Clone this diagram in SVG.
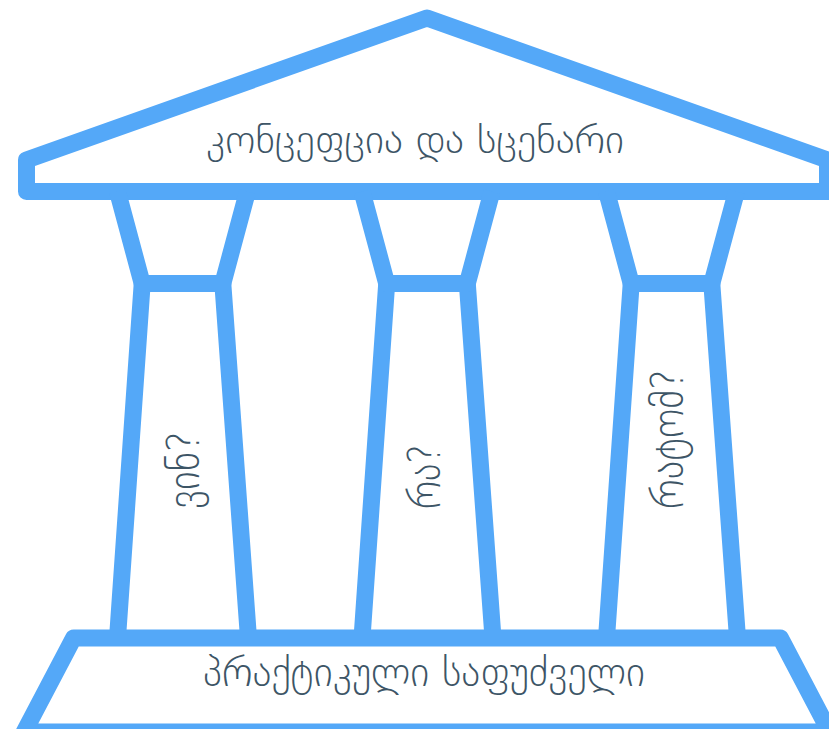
<svg xmlns="http://www.w3.org/2000/svg" width="829" height="729" viewBox="0 0 829 729">
<style>
.s{fill:none;stroke:#54a8f8;stroke-width:17;stroke-linejoin:round}
.f{fill:#ffffff;stroke:#54a8f8;stroke-width:17;stroke-linejoin:round}
.t{font-family:"DejaVu Sans",sans-serif;font-weight:200;fill:#3d5566}
</style>
<rect width="829" height="729" fill="#ffffff"/>
<g id="connectors">
<g id="col1-shaft"><path class="s" d="M142.2,283.5 L117.5,638 M222.8,283.5 L248.5,638"/></g>
<g id="col2-shaft"><path class="s" d="M386.7,283.5 L362,638 M467.3,283.5 L493,638"/></g>
<g id="col3-shaft"><path class="s" d="M631.2,283.5 L606.5,638 M711.8,283.5 L737.5,638"/></g>
</g>
<g id="roof">
<path class="f" d="M26.5,191.5 L26.5,160 L427,18 L827.5,160 L827.5,191.5 Z"/>
<text class="t" transform="translate(206,153) scale(1,1.15)" font-size="34" textLength="418" lengthAdjust="spacingAndGlyphs">კონცეფცია და სცენარი</text>
</g>
<g id="col1">
<path class="s" d="M117.5,191.5 L142.2,283.5 L222.8,283.5 L247.5,191.5"/>
<text class="t" transform="translate(199,509) rotate(-90) scale(1,1.1)" font-size="40" textLength="78" lengthAdjust="spacingAndGlyphs">ვინ?</text>
</g>
<g id="col2">
<path class="s" d="M362,191.5 L386.7,283.5 L467.3,283.5 L492,191.5"/>
<text class="t" transform="translate(440,509) rotate(-90) scale(1,1.1)" font-size="40" textLength="65" lengthAdjust="spacingAndGlyphs">რა?</text>
</g>
<g id="col3">
<path class="s" d="M606.5,191.5 L631.2,283.5 L711.8,283.5 L736.5,191.5"/>
<text class="t" transform="translate(683,509) rotate(-90) scale(1,1.1)" font-size="40" textLength="140" lengthAdjust="spacingAndGlyphs">რატომ?</text>
</g>
<g id="base">
<path class="f" d="M73.6,638 L780.4,638 L829.8,732 L24.2,732 Z"/>
<text class="t" transform="translate(203,686) scale(1,1.15)" font-size="36" textLength="442" lengthAdjust="spacingAndGlyphs">პრაქტიკული საფუძველი</text>
</g>
</svg>
